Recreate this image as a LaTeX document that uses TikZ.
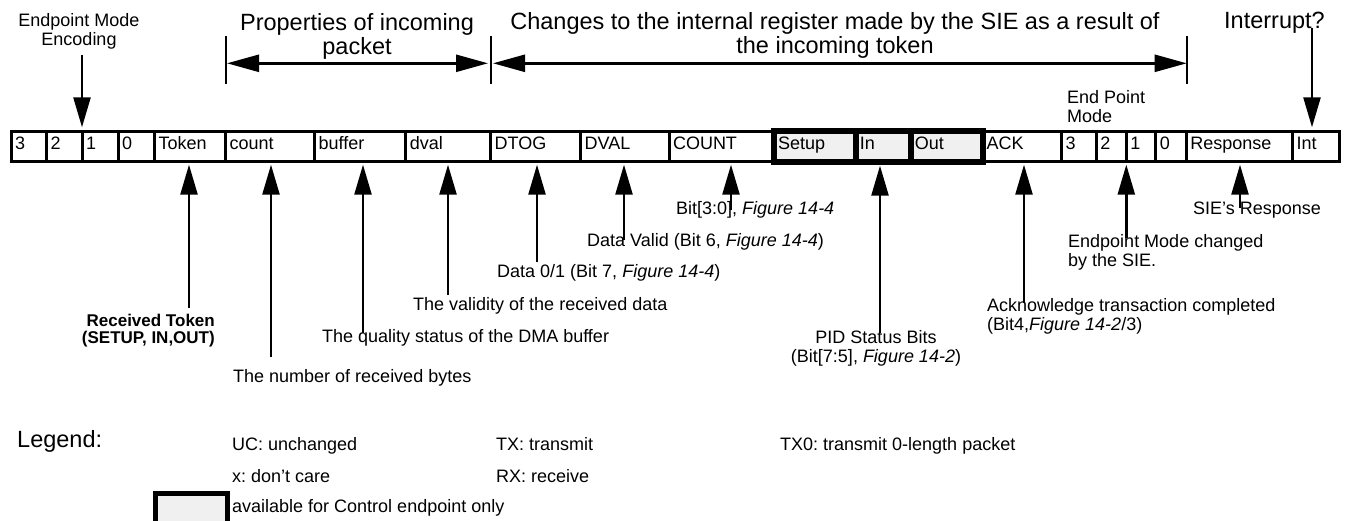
\documentclass[tikz,border=0pt]{standalone}
\usepackage{fontspec}
\setmainfont{Liberation Sans}
\usetikzlibrary{arrows.meta}
\definecolor{ctrlgray}{HTML}{F0F0F0}
\frenchspacing
\newcommand\regcell[5][]{%
  \pgfmathsetmacro\cw{#4-#3}%
  \pgfmathsetmacro\tw{#4-#3-8}%
  \node[cell,#1,minimum width=\cw pt,text width=\tw pt] (#2) at (#3,131.3) {#5};%
}
\begin{document}
\frenchspacing
\begin{tikzpicture}[x=1pt,y=-1pt,
  cell/.style={draw, line width=3pt, outer sep=0pt, inner xsep=4pt, inner ysep=0pt,
    minimum height=30.4pt, anchor=north west, text height=12pt, text depth=5pt,
    align=left, font=\fontsize{18}{19}\selectfont},
  ctrl/.style={fill=ctrlgray, line width=6pt},
  arr/.style={-{Triangle[length=30pt,width=17pt]}, line width=2.5pt},
  dbl/.style={{Triangle[length=32pt,width=17pt]}-{Triangle[length=32pt,width=17pt]}, line width=2.5pt},
  tick/.style={line width=2pt},
  lbl/.style={inner sep=0pt, font=\fontsize{18}{19}\selectfont},
  blbl/.style={inner sep=0pt, font=\fontsize{17}{17.5}\selectfont\bfseries},
  head/.style={inner sep=0pt, font=\fontsize{23.5}{24}\selectfont},
]
\useasboundingbox (0,0) rectangle (1347,521);

% register cells
\regcell{m3}{11}{46.7}{3}
\regcell{m2}{46.7}{82}{2}
\regcell{m1}{82}{118}{1}
\regcell{m0}{118}{154.7}{0}
\regcell{tok}{154.7}{225.7}{Token}
\regcell{cnt}{225.7}{314.7}{count}
\regcell{buf}{314.7}{405.8}{buffer}
\regcell{dv}{405.8}{490.7}{dval}
\regcell{dtog}{490.7}{580.7}{DTOG}
\regcell{dval}{580.7}{669}{DVAL}
\regcell{count}{669}{774.2}{COUNT}
\regcell{ack}{982.5}{1061.7}{ACK}
\regcell{n3}{1061.7}{1096.3}{3}
\regcell{n2}{1096.3}{1126.3}{2}
\regcell{n1}{1126.3}{1155.8}{1}
\regcell{n0}{1155.8}{1186.3}{0}
\regcell{resp}{1186.3}{1292.5}{Response}
\regcell{int}{1292.5}{1339}{Int}
\regcell[ctrl]{setup}{774.2}{855.8}{Setup}
\regcell[ctrl]{in}{855.8}{910.8}{In}
\regcell[ctrl]{out}{910.8}{982.5}{Out}

% header texts
\node[head, anchor=north, align=center] (hprop) at (357,13) {Properties of incoming\\packet};
\node[head, anchor=north, align=center] (hchg) at (835,12) {Changes to the internal register made by the SIE as a result of\\the incoming token};
\node[head, anchor=base west] (hint) at (1224,29) {Interrupt?};
\node[lbl, anchor=north, align=center] (heme) at (79,13) {Endpoint Mode\\Encoding};
\node[lbl, anchor=north west, align=left] (hepm) at (1067,90.1) {End Point\\Mode};

% header brackets
\coordinate (bL) at (226,63.3);
\coordinate (bM) at (491,63.3);
\coordinate (bR) at (1186.7,63.3);
\draw[tick] ([yshift=27pt]bL) -- ([yshift=-21pt]bL);
\draw[tick] ([yshift=27pt]bM) -- ([yshift=-21pt]bM);
\draw[tick] ([yshift=27pt]bR) -- ([yshift=-21pt]bR);
\draw[dbl, shorten <=1pt, shorten >=3pt] (bL) -- (bM);
\draw[dbl, shorten <=2pt, shorten >=0pt] (bM) -- (bR);

% top arrows
\coordinate (tEME) at (82,55);
\draw[arr, shorten >=4pt] (tEME) -- (tEME |- m2.north);
\coordinate (tInt) at (1312,28);
\draw[arr, shorten >=4pt] (tInt) -- (tInt |- int.north);

% bottom labels
\node[blbl, anchor=north east, align=right] (ltok) at (215,313.8) {Received Token\\(SETUP, IN,OUT)};
\node[lbl, anchor=base west] (lcnt) at (233,382) {The number of received bytes};
\node[lbl, anchor=base west] (lbuf) at (322,343) {The quality status of the DMA buffer};
\node[lbl, anchor=base west] (ldv) at (413,311) {The validity of the received data};
\node[lbl, anchor=base west] (ldtog) at (497,278) {Data 0/1 (Bit 7, \textit{Figure 14-4})};
\node[lbl, anchor=base west] (ldval) at (587,247) {Data Valid (Bit 6, \textit{Figure 14-4})};
\node[lbl, anchor=base west] (lcount) at (676,215) {Bit[3:0], \textit{Figure 14-4}};
\node[lbl, anchor=north, align=center] (lpid) at (876,330.1) {PID Status Bits\\(Bit[7:5], \textit{Figure 14-2})};
\node[lbl, anchor=north west, align=left] (lack) at (987,298.1) {Acknowledge transaction completed\\(Bit4,\textit{Figure 14-2}/3)};
\node[lbl, anchor=north west, align=left] (lmode) at (1068,234.1) {Endpoint Mode changed\\by the SIE.};
\node[lbl, anchor=base west] (lresp) at (1193,215) {SIE’s Response};

% bottom arrows
\coordinate (aTok) at (189,308);
\coordinate (aCnt) at (271,357);
\coordinate (aBuf) at (363,333);
\coordinate (aDv) at (448,295);
\coordinate (aDtog) at (537,262);
\coordinate (aDval) at (624,240);
\coordinate (aCount) at (731,210);
\coordinate (aIn) at (880,333);
\coordinate (aAck) at (1024,303);
\coordinate (aMode) at (1126.3,238);
\coordinate (aResp) at (1240,208);
\draw[arr, shorten >=3pt] (aTok) -- (aTok |- tok.south);
\draw[arr, shorten >=3pt] (aCnt) -- (aCnt |- cnt.south);
\draw[arr, shorten >=3pt] (aBuf) -- (aBuf |- buf.south);
\draw[arr, shorten >=3pt] (aDv) -- (aDv |- dv.south);
\draw[arr, shorten >=3pt] (aDtog) -- (aDtog |- dtog.south);
\draw[arr, shorten >=3pt] (aDval) -- (aDval |- dval.south);
\draw[arr, shorten >=3pt] (aCount) -- (aCount |- count.south);
\draw[arr, shorten >=4pt] (aIn) -- (aIn |- in.south);
\draw[arr, shorten >=3pt] (aAck) -- (aAck |- ack.south);
\draw[arr, shorten >=3pt] (aMode) -- (aMode |- n2.south);
\draw[arr, shorten >=3pt] (aResp) -- (aResp |- resp.south);

% legend
\node[head, anchor=base west] (leg) at (17,447) {Legend:};
\node[lbl, anchor=base west] (luc) at (232,450) {UC: unchanged};
\node[lbl, anchor=base west] (lx) at (232,482) {x: don’t care};
\node[lbl, anchor=base west] (lavail) at (232,512) {available for Control endpoint only};
\node[lbl, anchor=base west] (ltx) at (496,450) {TX: transmit};
\node[lbl, anchor=base west] (lrx) at (496,482) {RX: receive};
\node[lbl, anchor=base west] (ltx0) at (780,450) {TX0: transmit 0-length packet};
\draw[line width=5pt, fill=ctrlgray] (155.5,493.5) rectangle (227.5,540);
\end{tikzpicture}
\end{document}
